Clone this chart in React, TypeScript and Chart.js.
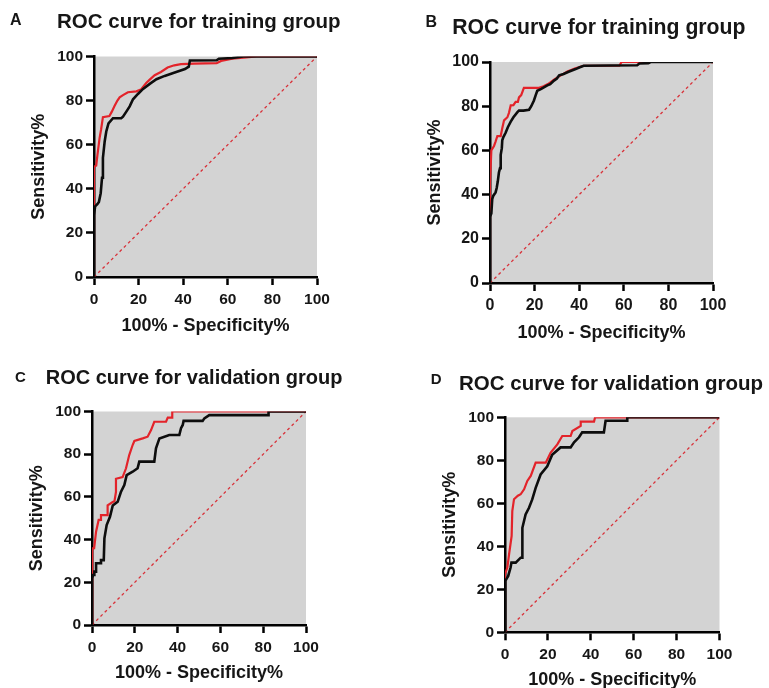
import React, { useEffect, useRef } from "react";
import { Chart, registerables } from "chart.js";

Chart.register(...registerables);

const FONT = '"Liberation Sans", Arial, Helvetica, sans-serif';

// ---------- text ----------
const X_TITLE = "100% - Specificity%";
const Y_TITLE = "Sensitivity%";
const TITLE_TRAIN = "ROC curve for training group";
const TITLE_VALID = "ROC curve for validation group";
const TICK_VALUES = [0, 20, 40, 60, 80, 100];

// ---------- reference diagonal ----------
const DIAG_X = [0, 100];
const DIAG_Y = [0, 100];

// ---------- Panel A (training) ----------
const A_BLACK_X = [0, 0, 0.5, 1.5, 2.2, 2.6, 3.0, 3.6, 4.0, 4.8, 5.5, 6.5, 8.5, 12.2, 13.0, 14.5, 16.0, 17.5, 19.7, 22.0, 25.0, 28.0, 31.7, 36.2, 40.8, 42.5, 43.0, 55.0, 56.0, 62.0, 67.0, 100];
const A_BLACK_Y = [0, 28, 32, 33, 34, 36, 38, 45, 54, 61.6, 66, 69.7, 72, 72, 72.7, 75, 77.4, 80.6, 83, 85.3, 87.6, 89.7, 91.2, 92.7, 94.3, 95.4, 98.2, 98.3, 99, 99.3, 100, 100];
const A_RED_X = [0, 0, 0, 1.0, 1.5, 2.5, 3.2, 4.0, 6.9, 8.0, 9.2, 10.5, 11.5, 13.0, 15.2, 19.0, 21.0, 23.4, 25.0, 27.2, 30.0, 33.0, 36.0, 39.0, 45.0, 55.0, 57.0, 62.0, 67.0, 73.0, 100];
const A_RED_Y = [0, 30, 50, 50.5, 55, 63, 67, 72.5, 73, 75, 77.5, 80, 81.5, 82.5, 83.8, 84.2, 85, 88, 89.5, 91.5, 93, 95, 96, 96.5, 96.8, 97, 98, 99, 99.5, 100, 100];

// ---------- Panel B (training) ----------
const B_BLACK_X = [0, 0, 0.6, 1.0, 1.5, 2.5, 3.0, 3.5, 4.0, 4.5, 4.8, 5.3, 5.5, 6.0, 7.0, 8.0, 9.3, 10.5, 12.3, 13.0, 15.0, 17.5, 18.5, 19.7, 20.5, 21.2, 23.0, 25.7, 27.0, 28.7, 30.0, 31.0, 33.0, 35.0, 38.4, 40.0, 42.0, 66.0, 67.0, 71.0, 72.0, 100];
const B_BLACK_Y = [0, 30, 31.5, 38, 39.5, 41, 43, 46, 50, 52, 58, 61, 64.6, 66, 68, 70.5, 73, 75, 77.3, 78, 78, 78.4, 80, 82.6, 85, 87, 87.8, 89.4, 90, 91.6, 92.5, 94, 94.6, 95.5, 96.8, 97.5, 98.3, 98.5, 99.3, 99.5, 100, 100];
const B_RED_X = [0, 0, 0, 0.6, 1.8, 2.5, 3.3, 4.8, 5.5, 6.3, 7.8, 8.5, 9.3, 10.5, 11.5, 12.5, 13.0, 14.0, 15.2, 22.0, 24.0, 26.0, 28.7, 31.0, 34.7, 38.0, 42.0, 58.0, 59.0, 100];
const B_RED_Y = [0, 30, 45, 60, 62, 64, 66.5, 66.5, 70, 73.6, 75, 77, 80.4, 80.5, 82, 82, 84, 85, 88.3, 88.3, 89, 90, 92, 93.5, 95.7, 97, 98.3, 98.3, 100, 100];

// ---------- Panel C (validation) ----------
const C_BLACK_X = [0, 0, 0.5, 1.1, 1.1, 1.9, 1.9, 4.2, 4.2, 5.5, 5.8, 6.85, 8.4, 9.7, 12.0, 13.5, 15.1, 16.2, 19.0, 21.3, 22.1, 29.1, 29.9, 31.5, 36.1, 40.8, 41.6, 42.4, 42.8, 51.7, 52.5, 54.8, 82.5, 82.5, 100];
const C_BLACK_Y = [0, 21.9, 23.4, 23.4, 25, 25, 28.9, 28.9, 30.4, 30.4, 40.6, 46.8, 50.7, 56, 57.7, 62.3, 65.6, 70.2, 71.8, 73.4, 76.5, 76.5, 82.8, 87.4, 89, 89, 92.2, 93.7, 95.6, 95.6, 96.8, 98.3, 98.3, 100, 100];
const C_RED_X = [0, 0, 0, 0.3, 1.0, 1.9, 3.1, 4.2, 4.2, 7.3, 7.3, 9.7, 10.5, 11.2, 11.2, 14.3, 15.9, 17.4, 19.0, 19.8, 23.7, 26.0, 27.6, 29.1, 34.6, 35.4, 37.5, 37.5, 100];
const C_RED_Y = [0, 23.4, 30.4, 35.9, 36, 43.7, 49.2, 49.2, 51.5, 51.5, 56, 57.6, 58, 62.3, 68.5, 69.3, 73.4, 79.6, 84.3, 86.2, 87.4, 88.2, 91.3, 95.2, 95.2, 97.1, 97.1, 100, 100];

// ---------- Panel D (validation) ----------
const D_BLACK_X = [0, 0, 0.3, 1.5, 2.6, 3.0, 5.0, 7.3, 8.1, 8.1, 9.6, 11.2, 12.7, 14.3, 16.6, 19.7, 22.0, 25.9, 30.6, 32.2, 34.5, 36.0, 46.1, 46.9, 57.0, 57.0, 100];
const D_BLACK_Y = [0, 19.2, 23.9, 26.2, 30.1, 32.4, 32.4, 34.7, 34.7, 48.6, 54.8, 57.9, 61.8, 67.2, 73.4, 77.2, 82.6, 86, 86, 88.4, 90.7, 93, 93, 98.4, 98.4, 100, 100];
const D_RED_X = [0, 0, 0, 1.1, 1.9, 3.1, 3.4, 4.2, 6.0, 7.3, 8.9, 10.4, 12.0, 14.3, 19.0, 21.3, 24.4, 26.7, 30.6, 31.4, 35.3, 35.3, 41.5, 42.0, 100];
const D_RED_Y = [0, 13, 27, 30.1, 36.3, 44.8, 56.4, 61.9, 63.5, 64.2, 66.5, 70.4, 72.7, 78.9, 78.9, 83.6, 87.4, 91.3, 91.3, 93.6, 96, 98, 98, 100, 100];

// ---------- styles ----------
const BLACK = "#0d0d0d";
const RED = "#e3232a";
const DIAG_COLOR = "#d8323a";
const PLOT_BG = "#d3d3d3";
const TEXT = "#161616";

type PanelCfg = {
  letter: string;
  title: string;
  area: { left: number; top: number; right: number; bottom: number };
  letterPos: { x: number; y: number; size: number };
  titlePos: { x: number; y: number; size: number };
  tickSize: number;
  xTitleGap: number;
  blackX: number[];
  blackY: number[];
  redX: number[];
  redY: number[];
};

const PANELS: PanelCfg[] = [
  {
    letter: "A",
    title: TITLE_TRAIN,
    area: { left: 94, top: 56.5, right: 317, bottom: 277 },
    letterPos: { x: 10, y: 25.3, size: 16 },
    titlePos: { x: 57, y: 27.5, size: 20.5 },
    tickSize: 15.5,
    xTitleGap: 49.5,
    blackX: A_BLACK_X, blackY: A_BLACK_Y, redX: A_RED_X, redY: A_RED_Y,
  },
  {
    letter: "B",
    title: TITLE_TRAIN,
    area: { left: 490, top: 62, right: 713, bottom: 283 },
    letterPos: { x: 425.5, y: 26.7, size: 16 },
    titlePos: { x: 452.3, y: 33.5, size: 21.2 },
    tickSize: 16,
    xTitleGap: 50,
    blackX: B_BLACK_X, blackY: B_BLACK_Y, redX: B_RED_X, redY: B_RED_Y,
  },
  {
    letter: "C",
    title: TITLE_VALID,
    area: { left: 92, top: 411.5, right: 306, bottom: 625 },
    letterPos: { x: 15, y: 381.7, size: 15 },
    titlePos: { x: 45.7, y: 383.5, size: 20 },
    tickSize: 15.5,
    xTitleGap: 48,
    blackX: C_BLACK_X, blackY: C_BLACK_Y, redX: C_RED_X, redY: C_RED_Y,
  },
  {
    letter: "D",
    title: TITLE_VALID,
    area: { left: 505, top: 417.3, right: 719.5, bottom: 632.3 },
    letterPos: { x: 430.7, y: 383.5, size: 15 },
    titlePos: { x: 459, y: 389.5, size: 20.5 },
    tickSize: 15.5,
    xTitleGap: 48,
    blackX: D_BLACK_X, blackY: D_BLACK_Y, redX: D_RED_X, redY: D_RED_Y,
  },
];

const Y_AXIS_W = 70;
const X_AXIS_H = 62;
const Y_TITLE_GAP = 54.5;

function toPoints(xs: number[], ys: number[]) {
  return xs.map((x, i) => ({ x, y: ys[i] }));
}

function Panel({ cfg }: { cfg: PanelCfg }) {
  const ref = useRef<HTMLCanvasElement>(null);
  const a = cfg.area;
  const cl = Math.floor(a.left) - 100;
  const ct = Math.floor(a.top) - 60;
  const cw = Math.ceil(a.right - cl + 50);
  const ch = Math.ceil(a.bottom - ct + X_AXIS_H + 4);

  useEffect(() => {
    const canvas = ref.current;
    if (!canvas) return;

    const bgPlugin = {
      id: "plotBg",
      beforeDraw(chart: any) {
        const { ctx, chartArea } = chart;
        ctx.save();
        ctx.fillStyle = PLOT_BG;
        ctx.fillRect(chartArea.left, chartArea.top, chartArea.right - chartArea.left, chartArea.bottom - chartArea.top);
        ctx.restore();
      },
    };

    const titlePlugin = {
      id: "panelTitle",
      afterDraw(chart: any) {
        const { ctx } = chart;
        ctx.save();
        ctx.fillStyle = TEXT;
        ctx.textBaseline = "alphabetic";
        ctx.textAlign = "left";
        ctx.font = `bold ${cfg.letterPos.size}px ${FONT}`;
        ctx.fillText(cfg.letter, cfg.letterPos.x - cl, cfg.letterPos.y - ct);
        ctx.font = `bold ${cfg.titlePos.size}px ${FONT}`;
        ctx.fillText(cfg.title, cfg.titlePos.x - cl, cfg.titlePos.y - ct);
        ctx.restore();
      },
    };

    const tickFont = { family: FONT, size: cfg.tickSize, weight: "bold" as const };
    const titleFont = { family: FONT, size: 18, weight: "bold" as const };
    const axisCommon = {
      type: "linear" as const,
      min: 0,
      max: 100,
      afterBuildTicks: (s: any) => {
        s.ticks = TICK_VALUES.map((v) => ({ value: v }));
      },
      grid: {
        display: true,
        drawOnChartArea: false,
        drawTicks: true,
        tickLength: 8,
        tickWidth: 2.5,
        tickColor: "#000",
      },
      border: { display: true, width: 2.5, color: "#000" },
    };

    const chart = new Chart(canvas, {
      type: "line",
      data: {
        datasets: [
          {
            data: toPoints(cfg.blackX, cfg.blackY),
            borderColor: BLACK,
            borderWidth: 2.6,
            pointRadius: 0,
            tension: 0,
            fill: false,
          },
          {
            data: toPoints(cfg.redX, cfg.redY),
            borderColor: RED,
            borderWidth: 2.2,
            pointRadius: 0,
            tension: 0,
            fill: false,
          },
          {
            data: toPoints(DIAG_X, DIAG_Y),
            borderColor: DIAG_COLOR,
            borderWidth: 1.3,
            borderDash: [3, 3],
            pointRadius: 0,
            tension: 0,
            fill: false,
          },
        ],
      },
      options: {
        animation: false,
        responsive: false,
        devicePixelRatio: 1,
        events: [],
        layout: {
          padding: {
            left: a.left - cl - Y_AXIS_W,
            top: a.top - ct,
            right: cl + cw - a.right,
            bottom: ct + ch - a.bottom - X_AXIS_H,
          },
        },
        plugins: {
          legend: { display: false },
          tooltip: { enabled: false },
          title: { display: false },
        },
        scales: {
          x: {
            ...axisCommon,
            position: "bottom",
            afterFit: (s: any) => {
              s.height = X_AXIS_H;
            },
            ticks: { font: tickFont, color: TEXT, padding: 5, maxRotation: 0, autoSkip: false },
            title: {
              display: true,
              text: X_TITLE,
              font: titleFont,
              color: TEXT,
              padding: { top: 0, bottom: X_AXIS_H - 18 * 0.6 - cfg.xTitleGap },
            },
          },
          y: {
            ...axisCommon,
            position: "left",
            afterFit: (s: any) => {
              s.width = Y_AXIS_W;
            },
            ticks: { font: tickFont, color: TEXT, padding: 3, autoSkip: false },
            title: {
              display: true,
              text: Y_TITLE,
              font: titleFont,
              color: TEXT,
              padding: { top: Y_AXIS_W - 18 * 0.6 - Y_TITLE_GAP, bottom: 0 },
            },
          },
        },
      },
      plugins: [bgPlugin, titlePlugin],
    } as any);

    return () => chart.destroy();
  }, []);

  return (
    <canvas
      ref={ref}
      width={cw}
      height={ch}
      style={{ position: "absolute", left: cl, top: ct, width: cw, height: ch }}
    />
  );
}

export default function App() {
  return (
    <div
      style={{
        position: "absolute",
        left: 0,
        top: 0,
        width: 769,
        height: 688,
        overflow: "hidden",
        background: "#ffffff",
      }}
    >
      {PANELS.map((p) => (
        <Panel key={p.letter} cfg={p} />
      ))}
    </div>
  );
}
